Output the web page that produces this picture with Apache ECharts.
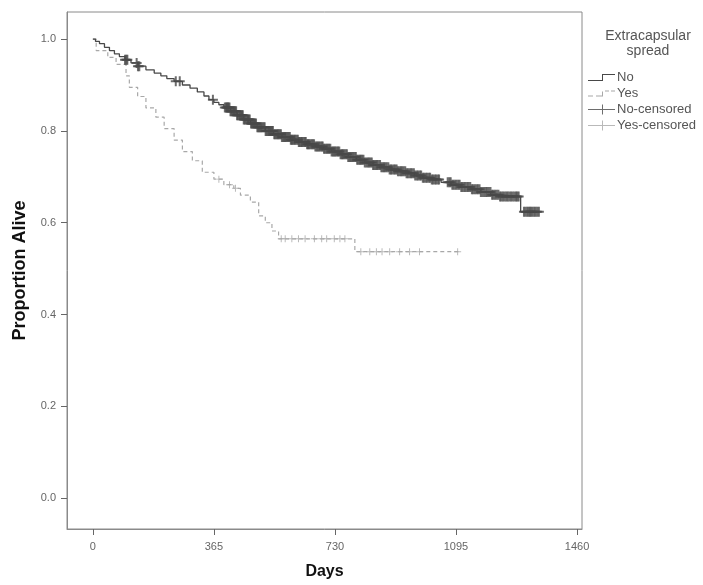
<!DOCTYPE html>
<html>
<head>
<meta charset="utf-8">
<script src="https://cdn.jsdelivr.net/npm/echarts@6/dist/echarts.min.js"></script>
<style>
html,body{margin:0;padding:0;background:#fff;}
#chart{width:703px;height:585px;}
</style>
</head>
<body>
<div id="chart"></div>
<script>
// ---- Data ----
const xTicks = [0, 365, 730, 1095, 1460];
const yTicks = [0, 0.2, 0.4, 0.6, 0.8, 1.0];
const legendTitle = "Extracapsular\nspread";
const seriesNames = ["No", "Yes", "No-censored", "Yes-censored"];

// Kaplan-Meier steps: day of event and survival after it
const noDays = [0, 8, 20, 35, 50, 65, 80, 97, 115, 136, 160, 185, 205, 223, 245, 270, 293, 315, 335, 350, 365, 380, 395, 415, 435, 455, 475, 495, 520, 545, 570, 595, 620, 645, 670, 695, 720, 745, 770, 795, 820, 845, 870, 895, 920, 945, 970, 995, 1020, 1050, 1080, 1110, 1140, 1170, 1200, 1225, 1290, 1345];
const noSurv = [1.0, 0.995, 0.99, 0.982, 0.975, 0.968, 0.962, 0.955, 0.948, 0.941, 0.933, 0.926, 0.92, 0.914, 0.908, 0.9, 0.893, 0.885, 0.876, 0.868, 0.862, 0.857, 0.851, 0.843, 0.834, 0.825, 0.816, 0.808, 0.8, 0.793, 0.787, 0.781, 0.776, 0.771, 0.766, 0.761, 0.755, 0.749, 0.743, 0.737, 0.731, 0.726, 0.721, 0.716, 0.712, 0.708, 0.703, 0.698, 0.694, 0.688, 0.683, 0.678, 0.673, 0.667, 0.661, 0.657, 0.624, 0.624];

const yesDays = [0, 10, 45, 70, 100, 110, 135, 160, 190, 215, 245, 270, 300, 330, 365, 395, 425, 445, 475, 500, 520, 540, 560, 790, 1105];
const yesSurv = [1.0, 0.975, 0.96, 0.945, 0.92, 0.895, 0.875, 0.85, 0.83, 0.805, 0.78, 0.755, 0.735, 0.71, 0.695, 0.683, 0.675, 0.66, 0.645, 0.615, 0.6, 0.582, 0.565, 0.537, 0.537];

// Censoring times
const noCensDays = [97, 101, 104, 132, 136, 140, 250, 262, 362, 398, 402, 404, 407, 409, 412, 415, 418, 421, 424, 426, 429, 432, 435, 437, 441, 444, 447, 450, 452, 455, 458, 461, 465, 468, 470, 473, 477, 480, 483, 486, 489, 492, 496, 499, 502, 505, 508, 511, 515, 518, 521, 524, 528, 531, 534, 537, 540, 543, 547, 550, 554, 557, 560, 563, 567, 570, 574, 577, 580, 583, 587, 590, 594, 597, 600, 603, 607, 610, 614, 618, 621, 624, 628, 631, 635, 639, 642, 646, 649, 652, 656, 660, 663, 667, 671, 675, 678, 682, 686, 690, 693, 697, 701, 705, 708, 712, 716, 720, 724, 728, 731, 735, 739, 743, 747, 751, 754, 758, 762, 766, 770, 774, 777, 781, 785, 789, 793, 797, 801, 805, 808, 812, 816, 820, 825, 829, 833, 837, 841, 845, 849, 853, 857, 861, 866, 870, 874, 878, 882, 886, 891, 895, 899, 903, 908, 912, 916, 920, 925, 929, 933, 937, 942, 946, 950, 955, 959, 963, 968, 972, 977, 981, 986, 990, 995, 999, 1004, 1008, 1013, 1017, 1022, 1026, 1031, 1035, 1040, 1044, 1070, 1075, 1079, 1084, 1088, 1093, 1097, 1102, 1106, 1111, 1115, 1120, 1124, 1129, 1133, 1138, 1143, 1147, 1152, 1157, 1161, 1166, 1170, 1175, 1180, 1185, 1189, 1194, 1199, 1204, 1208, 1213, 1218, 1223, 1228, 1232, 1237, 1242, 1247, 1251, 1256, 1261, 1266, 1271, 1276, 1280, 1284, 1300, 1305, 1310, 1314, 1318, 1322, 1326, 1331, 1335, 1340, 1345];
const yesCensDays = [380, 412, 430, 568, 580, 600, 620, 640, 668, 690, 705, 728, 745, 760, 808, 835, 855, 872, 895, 925, 955, 985, 1100];

// ---- Build series ----
function survAt(days, surv, d) {
  let v = surv[0];
  for (let i = 0; i < days.length; i++) { if (days[i] <= d) v = surv[i]; else break; }
  return v;
}
const noLine = noDays.map((d, i) => [d, noSurv[i]]);
const yesLine = yesDays.map((d, i) => [d, yesSurv[i]]);
const noCens = noCensDays.map(d => [d, survAt(noDays, noSurv, d)]);
const yesCens = yesCensDays.map(d => [d, survAt(yesDays, yesSurv, d)]);

const plus = 'path://M-1,-5H1V-1H5V1H1V5H-1V1H-5V-1H-1Z';
const plusThin = 'path://M-0.7,-5H0.7V-0.7H5V0.7H0.7V5H-0.7V0.7H-5V-0.7H-0.7Z';
const darkC = '#484848';
const lightC = '#a8a8a8';
const FONT = 'Liberation Sans, Arial, sans-serif';

const chart = echarts.init(document.getElementById('chart'), null, {renderer: 'canvas'});
chart.setOption({
  backgroundColor: '#fff',
  animation: false,
  title: {
    text: legendTitle,
    left: 643, top: 24, textAlign: 'center',
    textStyle: {fontFamily: FONT, fontSize: 14, fontWeight: 'normal', color: '#555', lineHeight: 15}
  },
  legend: {
    orient: 'vertical', left: 583, top: 66, itemGap: 3,
    itemWidth: 27, itemHeight: 10,
    textStyle: {fontFamily: FONT, fontSize: 13, color: '#555', padding: [0, 0, 0, -3]},
    data: [
      {name: seriesNames[0], icon: 'path://M0,8H14V2H27V3H15V9H0Z'},
      {name: seriesNames[1], icon: 'path://M0,8H5V9H0ZM8,8H14V4H15V9H8ZM17,3H21V4H17ZM23,3H27V4H23Z'},
      {name: seriesNames[2], icon: 'path://M0,4.5H14V0H15V4.5H27V5.5H15V10H14V5.5H0Z'},
      {name: seriesNames[3], icon: 'path://M0,4.5H14V0H15V4.5H27V5.5H15V10H14V5.5H0Z'}
    ]
  },
  grid: {left: 67, top: 12, width: 515, height: 519, show: true, borderColor: '#8a8a8a', borderWidth: 1, backgroundColor: '#fff'},
  xAxis: {
    type: 'value', min: -78, max: 1475,
    name: 'Days', nameLocation: 'middle', nameGap: 35,
    nameTextStyle: {fontFamily: FONT, fontSize: 16, fontWeight: 'bold', color: '#111'},
    axisLine: {show: true, onZero: false, lineStyle: {color: '#8a8a8a'}},
    axisTick: {show: true, length: 6, customValues: xTicks, lineStyle: {color: '#666'}},
    axisLabel: {customValues: xTicks, fontFamily: FONT, fontSize: 11, color: '#666', margin: 12,
      formatter: v => String(v)},
    splitLine: {show: false}
  },
  yAxis: {
    type: 'value', min: -0.067, max: 1.059,
    name: 'Proportion Alive', nameLocation: 'middle', nameGap: 38,
    nameTextStyle: {fontFamily: FONT, fontSize: 18, fontWeight: 'bold', color: '#111'},
    axisLine: {show: true, onZero: false, lineStyle: {color: '#8a8a8a'}},
    axisTick: {show: true, length: 6, customValues: yTicks, lineStyle: {color: '#666'}},
    axisLabel: {customValues: yTicks, fontFamily: FONT, fontSize: 11, color: '#666', margin: 11,
      formatter: v => v.toFixed(1)},
    splitLine: {show: false}
  },
  series: [
    {name: seriesNames[0], type: 'line', step: 'end', data: noLine, showSymbol: false, symbol: 'none',
     color: darkC, lineStyle: {color: darkC, width: 1.3}, z: 3},
    {name: seriesNames[1], type: 'line', step: 'end', data: yesLine, showSymbol: false, symbol: 'none',
     color: lightC, lineStyle: {color: lightC, width: 1.2, type: [4, 3]}, z: 2},
    {name: seriesNames[2], type: 'scatter', data: noCens, symbol: plus, symbolSize: 10,
     color: darkC, itemStyle: {color: darkC}, z: 4},
    {name: seriesNames[3], type: 'scatter', data: yesCens, symbol: plusThin, symbolSize: 7,
     color: lightC, itemStyle: {color: lightC}, z: 2}
  ]
});
</script>
</body>
</html>
